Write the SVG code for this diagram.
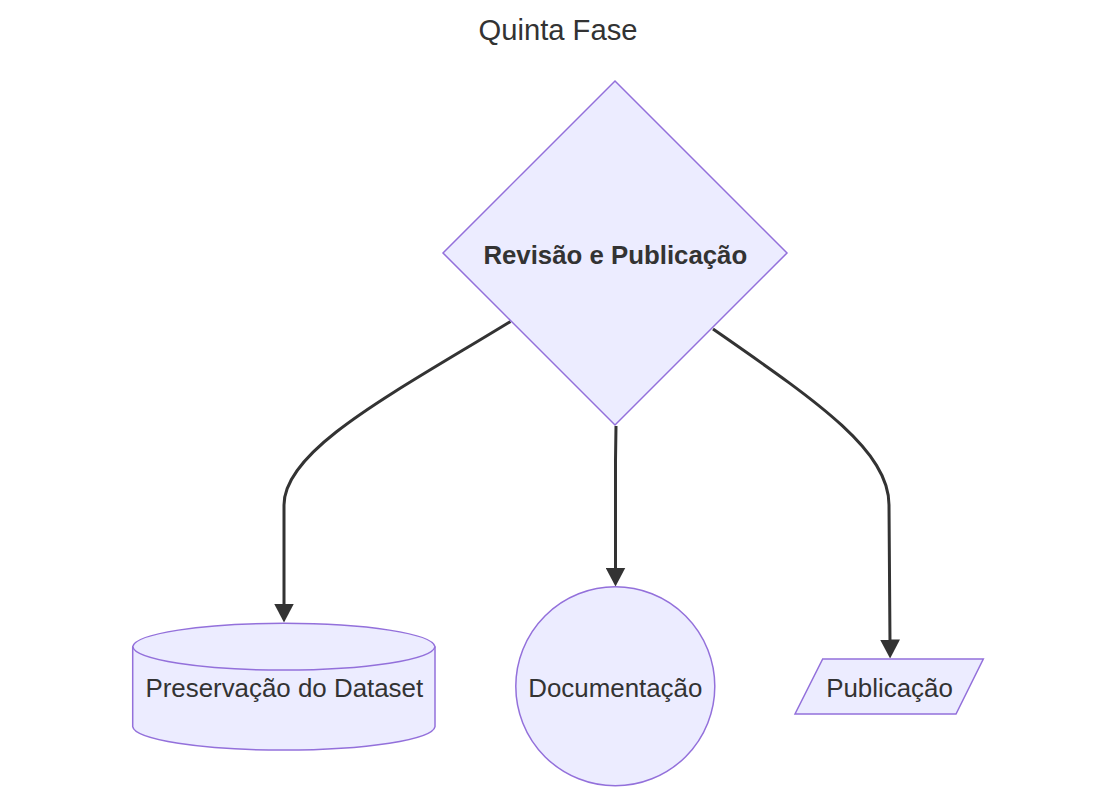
<svg xmlns="http://www.w3.org/2000/svg" width="1116" height="799" viewBox="0 0 1116 799">
<style>
.node{fill:#ECECFF;stroke:#9370DB;stroke-width:1.5}
.lbl{font-family:"Liberation Sans",Arial,sans-serif;font-size:25.9px;fill:#333333;text-anchor:middle}
.bold{font-weight:bold;font-size:25.8px}
.title{font-family:"Liberation Sans",Arial,sans-serif;font-size:29.2px;fill:#333333;text-anchor:middle}
.edge{fill:none;stroke:#333333;stroke-width:3}
</style>
<defs>
<marker id="arrow" viewBox="0 0 19 20" refX="3" refY="10" markerWidth="19" markerHeight="20" markerUnits="userSpaceOnUse" orient="auto" preserveAspectRatio="none">
<path d="M0,0 L19,10 L0,20 z" fill="#333333"/>
</marker>
</defs>
<rect width="1116" height="799" fill="#ffffff"/>
<text class="title" x="558" y="39.5">Quinta Fase</text>
<g id="connectors">
<path class="edge" d="M510.5,321.5 C390,395 284,450 284,505 L284,606.5" marker-end="url(#arrow)"/>
<path class="edge" d="M616,426 L615.5,460 L615.5,570.5" marker-end="url(#arrow)"/>
<path class="edge" d="M713,329 C815,400 889,450 889,505 L890,642.5" marker-end="url(#arrow)"/>
</g>
<g id="revisao">
<polygon class="node" points="615,81 787,253 615,425 443,253"/>
<text class="lbl bold" x="615.3" y="264">Revisão e Publicação</text>
</g>
<g id="preservacao">
<path class="node" d="M132.7,646.7 A151.2,24 0 0 1 435,646.7 L435,726.7 A151.2,24 0 0 1 132.7,726.7 Z"/>
<path class="node" d="M132.7,646.7 A151.2,24 0 0 0 435,646.7" style="fill:none"/>
<text class="lbl" x="284.3" y="697">Preservação do Dataset</text>
</g>
<g id="documentacao">
<circle class="node" cx="615.3" cy="686.3" r="99.5"/>
<text class="lbl" x="615.3" y="697">Documentação</text>
</g>
<g id="publicacao">
<polygon class="node" points="822.7,659 983.3,659 956,714 795,714"/>
<text class="lbl" x="889.5" y="697">Publicação</text>
</g>
</svg>
